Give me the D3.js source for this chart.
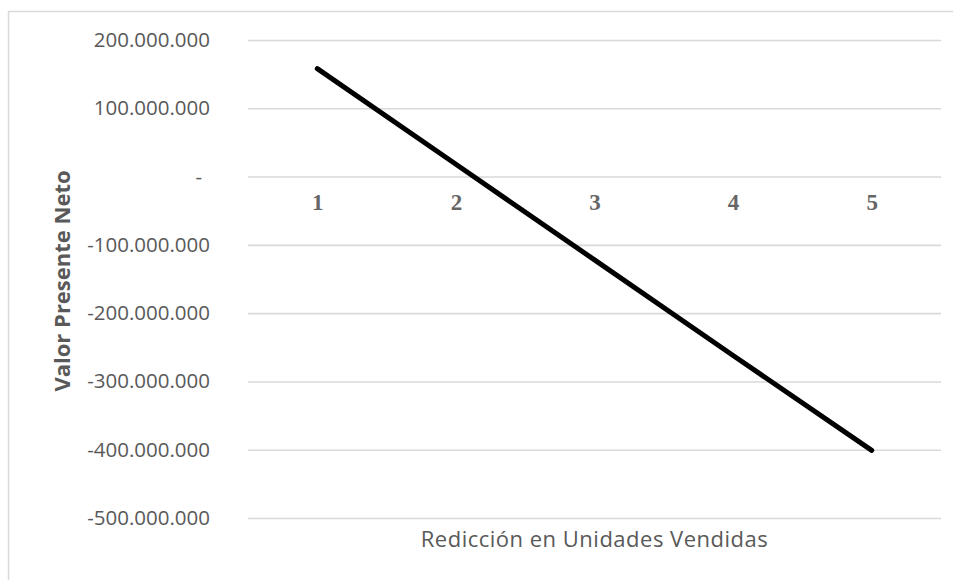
<!DOCTYPE html>
<html>
<head>
<meta charset="utf-8">
<script src="https://cdn.jsdelivr.net/npm/d3@7"></script>
<style>
  html, body { margin: 0; padding: 0; background: #fff; }
  svg { display: block; }
</style>
</head>
<body>
<svg id="chart" width="953" height="580"></svg>
<script>
// Reducción en unidades vendidas vs. VPN
const categories = ["1", "2", "3", "4", "5"];
const vpnValues = [158000000, 18000000, -122000000, -262000000, -401000000];
const yTickValues = [200000000, 100000000, 0, -100000000, -200000000, -300000000, -400000000, -500000000];
const yTickLabels = ["200.000.000", "100.000.000", "-", "-100.000.000", "-200.000.000", "-300.000.000", "-400.000.000", "-500.000.000"];
const xTitle = "Redicción en Unidades Vendidas";
const yTitle = "Valor Presente Neto";

const svg = d3.select("#chart");
const plot = { left: 248, right: 941, top: 40, bottom: 518 };
const textColor = "#595959";
const gridColor = "#d9d9d9";

// chart area border
svg.append("rect")
  .attr("x", 8.5).attr("y", 11.5)
  .attr("width", 1000).attr("height", 700)
  .attr("fill", "#fff")
  .attr("stroke", gridColor)
  .attr("stroke-width", 1.5);

const x = d3.scalePoint()
  .domain(categories)
  .range([plot.left, plot.right])
  .padding(0.5);

const y = d3.scaleLinear()
  .domain([-500000000, 200000000])
  .range([plot.bottom, plot.top]);

// horizontal gridlines + tick labels
const yAxis = d3.axisLeft(y)
  .tickValues(yTickValues)
  .tickSize(-(plot.right - plot.left))
  .tickPadding(38)
  .tickFormat((d, i) => yTickLabels[i]);

const gy = svg.append("g")
  .attr("transform", `translate(${plot.left},0)`)
  .call(yAxis);
gy.select(".domain").remove();
gy.selectAll(".tick line")
  .attr("stroke", gridColor)
  .attr("stroke-width", 1.6);
gy.selectAll(".tick text")
  .attr("fill", textColor)
  .attr("font-family", "'Open Sans', sans-serif")
  .attr("font-size", 20.5)
  .attr("dx", d => d === 0 ? -8 : 0);

// category labels sit along the zero line
const gx = svg.append("g")
  .attr("transform", `translate(0,${y(0)})`)
  .call(d3.axisBottom(x).tickSize(0).tickPadding(0));
gx.select(".domain").remove();
gx.selectAll(".tick text")
  .attr("fill", "#666")
  .attr("font-family", "'Liberation Serif', 'Times New Roman', serif")
  .attr("font-weight", "bold")
  .attr("font-size", 23)
  .attr("dy", "1.45em");

// NPV line
const line = d3.line()
  .x((d, i) => x(categories[i]))
  .y(d => y(d));

svg.append("path")
  .datum(vpnValues)
  .attr("fill", "none")
  .attr("stroke", "#000")
  .attr("stroke-width", 5)
  .attr("stroke-linecap", "round")
  .attr("stroke-linejoin", "round")
  .attr("d", line);

// axis titles
svg.append("text")
  .attr("x", (plot.left + plot.right) / 2)
  .attr("y", 547)
  .attr("text-anchor", "middle")
  .attr("fill", textColor)
  .attr("font-family", "'Open Sans', sans-serif")
  .attr("font-size", 22)
  .attr("letter-spacing", 0.5)
  .text(xTitle);

svg.append("text")
  .attr("transform", `translate(70,${(plot.top + plot.bottom) / 2 + 2}) rotate(-90)`)
  .attr("text-anchor", "middle")
  .attr("fill", textColor)
  .attr("font-family", "'Open Sans', sans-serif")
  .attr("font-weight", "bold")
  .attr("font-size", 22)
  .text(yTitle);
</script>
</body>
</html>
